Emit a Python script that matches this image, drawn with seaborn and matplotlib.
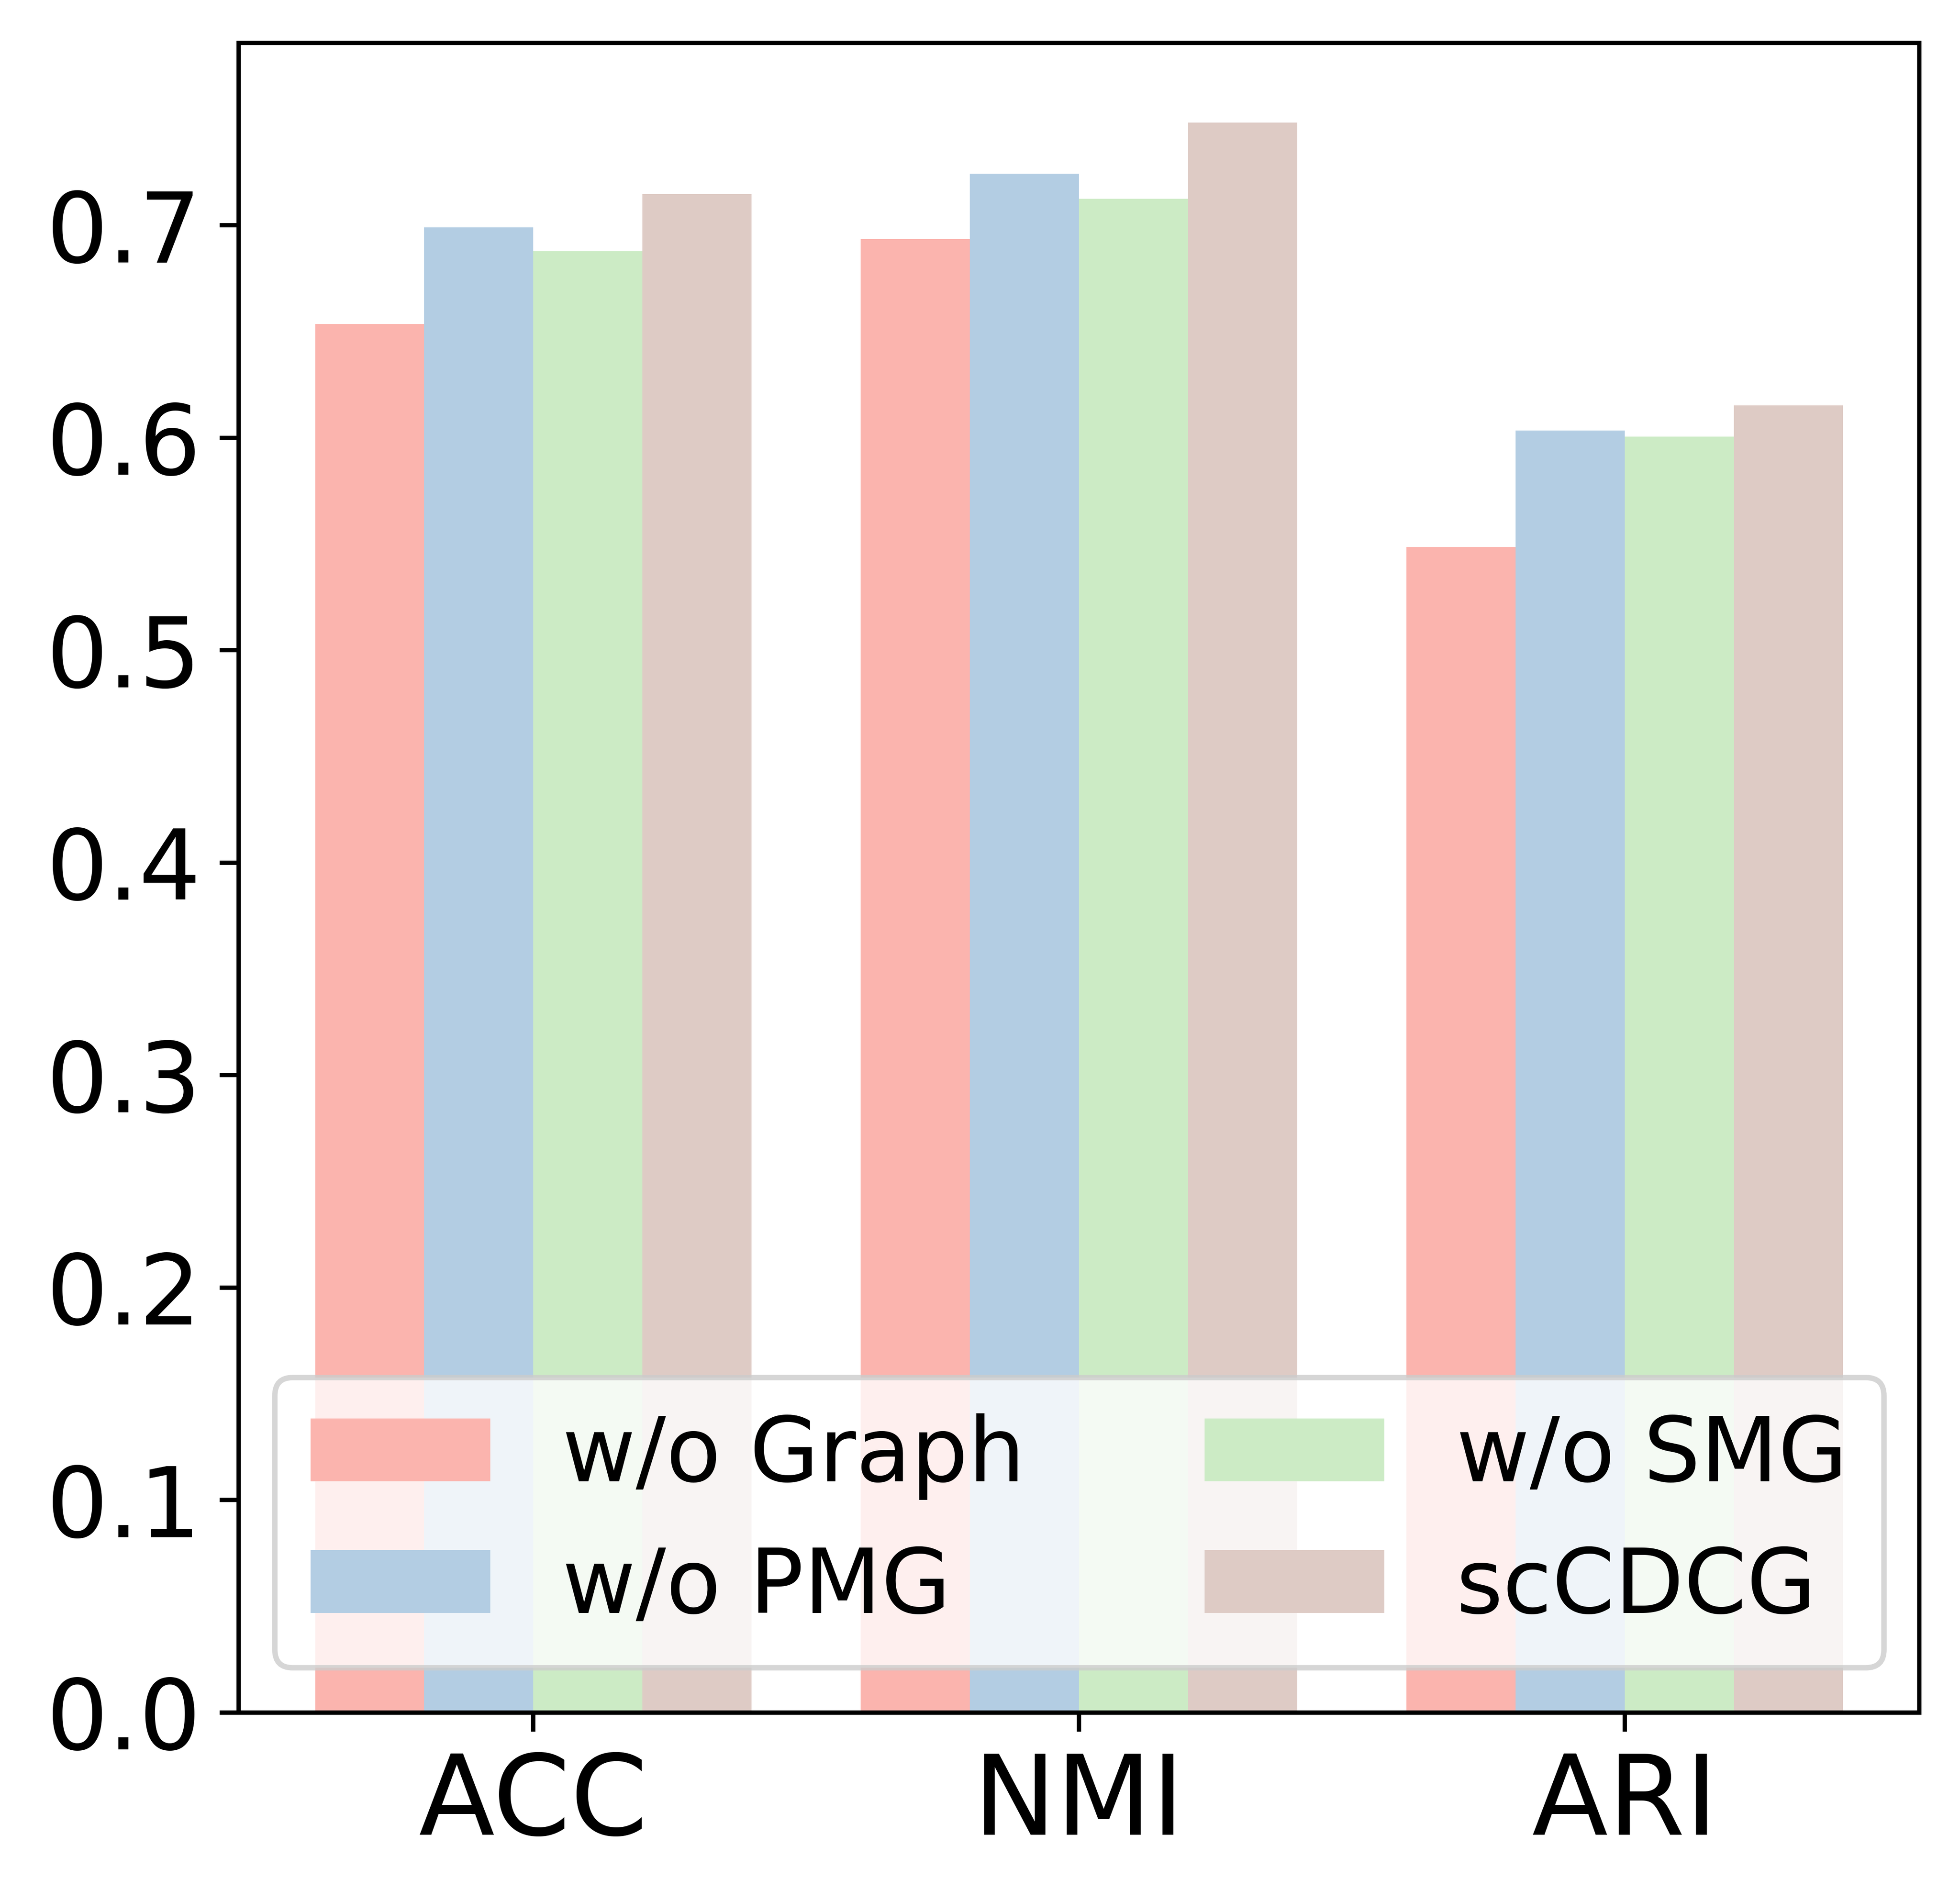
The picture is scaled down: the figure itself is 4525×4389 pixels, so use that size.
import pandas as pd
import matplotlib
matplotlib.use("Agg")
import matplotlib.pyplot as plt
import seaborn as sns

# values
metrics = ["ACC", "NMI", "ARI"]
methods = ["w/o Graph", "w/o PMG", "w/o SMG", "scCDCG"]
wo_graph = [0.6535, 0.6936, 0.5486]
wo_pmg = [0.6990, 0.7242, 0.6034]
wo_smg = [0.6877, 0.7124, 0.6005]
sccdcg = [0.7148, 0.7484, 0.6152]
colors = ["#fbb4ae", "#b3cde3", "#ccebc5", "#decbc5"]

rows = []
for name, vals in zip(methods, [wo_graph, wo_pmg, wo_smg, sccdcg]):
    for m, v in zip(metrics, vals):
        rows.append({"metric": m, "method": name, "value": v})
df = pd.DataFrame(rows)

fig = plt.figure(figsize=(4525 / 900, 4389 / 900), dpi=900)
ax = fig.add_axes([0.1218, 0.0992, 0.8575, 0.8782])

sns.barplot(data=df, x="metric", y="value", hue="method", order=metrics,
            hue_order=methods, palette=colors, saturation=1, width=0.8,
            errorbar=None, ax=ax)

ax.set_xlim(-0.54, 2.54)
ax.set_ylim(0, 0.7484 * 1.05)
ax.set_xlabel("")
ax.set_ylabel("")
ax.tick_params(axis="x", labelsize=20.5)
ax.tick_params(axis="y", labelsize=18)
for s in ax.spines.values():
    s.set_visible(True)
    s.set_color("black")

ax.legend(loc="lower center", ncol=2, fontsize=16.6)

fig.savefig("out.png", dpi=900)
